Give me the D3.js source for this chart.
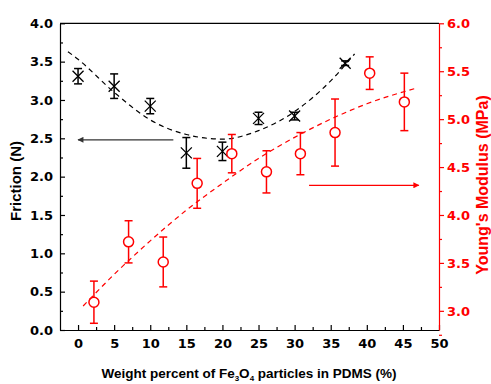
<!DOCTYPE html>
<html>
<head>
<meta charset="utf-8">
<script src="https://cdn.jsdelivr.net/npm/d3@7"></script>
<style>
    body { margin: 0; background: #fff; }
    svg { display: block; }
    .tick text { font-family: 'DejaVu Sans', sans-serif; font-weight: bold; font-size: 13px; }
    .title { font-family: 'Liberation Sans', Arial, sans-serif; font-weight: bold; }
</style>
</head>
<body>
<div class="svg"></div>
<script>
//
// DATA
//
// friction (left axis), black crosses
const fricX = [0, 5, 10, 15, 20, 25, 30, 37]
const fricY = [3.31, 3.18, 2.92, 2.31, 2.33, 2.76, 2.79, 3.48]
const fricErr = [0.1, 0.16, 0.1, 0.2, 0.12, 0.08, 0.05, 0.03]
// young's modulus (right axis), red circles
const modX = [2.2, 7, 11.8, 16.5, 21.3, 26.1, 30.8, 35.6, 40.4, 45.2]
const modY = [3.09, 3.72, 3.51, 4.33, 4.64, 4.45, 4.64, 4.86, 5.48, 5.18]
const modErr = [0.22, 0.22, 0.26, 0.26, 0.2, 0.22, 0.22, 0.35, 0.17, 0.3]
// dashed trend lines
const fricFitX = [-1.4, 0, 5, 10, 15, 20, 25, 30, 35, 38.3]
const fricFitY = [3.63, 3.53, 3.1, 2.74, 2.55, 2.49, 2.6, 2.85, 3.25, 3.6]
const modFitX = [0.7, 5, 10, 15, 20, 25, 30, 35, 40, 46.7]
const modFitY = [3.05, 3.38, 3.73, 4.05, 4.33, 4.59, 4.81, 5.0, 5.16, 5.32]
// the two arrows pointing at their axis: [x start, x end, y]
const fricArrow = [13.2, 0, 2.48]
const modArrow = [32, 47.2, 4.31]

//
// GLOBALS
//
const width = 491
const height = 384
const red = '#ff0000'
const plotL = 60, plotR = 439, plotT = 23.3, plotB = 330

const svg = d3.select('.svg').append('svg')
    .attr('width', width)
    .attr('height', height)

const x = d3.scaleLinear().domain([-2.5, 50]).range([plotL, plotR])
const yL = d3.scaleLinear().domain([0, 4]).range([plotB, plotT])
const yR = d3.scaleLinear().domain([2.8, 6]).range([plotB, plotT])

// arrow heads
const defs = svg.append('defs')
const addHead = (id, color) => {
    defs.append('marker')
        .attr('id', id)
        .attr('viewBox', '0 0 10 10')
        .attr('refX', 9).attr('refY', 5)
        .attr('markerWidth', 10).attr('markerHeight', 6)
        .attr('markerUnits', 'userSpaceOnUse')
        .attr('orient', 'auto')
        .append('path')
        .attr('d', 'M0,0L10,5L0,10Z')
        .attr('fill', color)
}
addHead('headBlack', '#333')
addHead('headRed', red)

//
// AXES
//
const styleAxis = (g, color) => {
    g.selectAll('path, line').attr('stroke', color).attr('stroke-width', 1.2)
    g.selectAll('text').attr('fill', color)
}
const range = (a, b, s) => d3.range(a, b + s / 2, s)

// bottom: ticks point inward
svg.append('g')
    .attr('transform', `translate(0,${plotB})`)
    .call(d3.axisBottom(x).tickValues(range(2.5, 47.5, 5)).tickSize(-3).tickFormat(''))
    .call(g => g.select('.domain').remove())
    .call(g => styleAxis(g, '#000'))
svg.append('g')
    .attr('transform', `translate(0,${plotB})`)
    .call(d3.axisBottom(x).tickValues(range(0, 50, 5)).tickSize(-5).tickSizeOuter(0).tickPadding(9).tickFormat(d3.format('d')))
    .call(g => styleAxis(g, '#000'))

// top frame line
svg.append('line')
    .attr('x1', plotL).attr('x2', plotR)
    .attr('y1', plotT).attr('y2', plotT)
    .attr('stroke', '#000').attr('stroke-width', 1.2)

// left: friction
svg.append('g')
    .attr('transform', `translate(${plotL},0)`)
    .call(d3.axisLeft(yL).tickValues(range(0.25, 3.75, 0.5)).tickSize(-3).tickFormat(''))
    .call(g => g.select('.domain').remove())
    .call(g => styleAxis(g, '#000'))
svg.append('g')
    .attr('transform', `translate(${plotL},0)`)
    .call(d3.axisLeft(yL).tickValues(range(0, 4, 0.5)).tickSize(-5).tickSizeOuter(0).tickPadding(7).tickFormat(d3.format('.1f')))
    .call(g => styleAxis(g, '#000'))

// right: modulus, ticks point outward
svg.append('g')
    .attr('transform', `translate(${plotR},0)`)
    .call(d3.axisRight(yR).tickValues(range(2.75, 5.75, 0.5)).tickSize(3).tickFormat(''))
    .call(g => g.select('.domain').remove())
    .call(g => styleAxis(g, red))
svg.append('g')
    .attr('transform', `translate(${plotR},0)`)
    .call(d3.axisRight(yR).tickValues(range(3, 6, 0.5)).tickSize(5).tickSizeOuter(0).tickPadding(3).tickFormat(d3.format('.1f')))
    .call(g => styleAxis(g, red))

//
// TITLES
//
const xTitle = svg.append('text')
    .attr('class', 'title')
    .attr('x', 249).attr('y', 378)
    .attr('text-anchor', 'middle')
    .style('font-size', '13.5px')
xTitle.append('tspan').text('Weight percent of Fe')
xTitle.append('tspan').attr('dy', 2.5).style('font-size', '8px').text('3')
xTitle.append('tspan').attr('dy', -2.5).text('O')
xTitle.append('tspan').attr('dy', 2.5).style('font-size', '8px').text('4')
xTitle.append('tspan').attr('dy', -2.5).text(' particles in PDMS (%)')

svg.append('text')
    .attr('class', 'title')
    .attr('transform', 'translate(21,181) rotate(-90)')
    .attr('text-anchor', 'middle')
    .style('font-size', '15px')
    .text('Friction (N)')

svg.append('text')
    .attr('class', 'title')
    .attr('transform', 'translate(488,185) rotate(-90)')
    .attr('text-anchor', 'middle')
    .attr('fill', red)
    .style('font-size', '16px')
    .text("Young's Modulus (MPa)")

//
// TREND LINES
//
const plotFit = (xs, ys, yScale, color) => {
    const line = d3.line()
        .x(d => x(d[0]))
        .y(d => yScale(d[1]))
        .curve(d3.curveMonotoneX)
    svg.append('path')
        .attr('d', line(d3.zip(xs, ys)))
        .attr('fill', 'none')
        .attr('stroke', color)
        .attr('stroke-width', 1.2)
        .attr('stroke-dasharray', '5,4')
}
plotFit(fricFitX, fricFitY, yL, '#000')
plotFit(modFitX, modFitY, yR, red)

//
// ARROWS
//
const plotArrow = (a, yScale, color, head) => {
    svg.append('line')
        .attr('x1', x(a[0])).attr('x2', x(a[1]))
        .attr('y1', yScale(a[2])).attr('y2', yScale(a[2]))
        .attr('stroke', color)
        .attr('stroke-width', 1.3)
        .attr('marker-end', `url(#${head})`)
}
plotArrow(fricArrow, yL, '#333', 'headBlack')
plotArrow(modArrow, yR, red, 'headRed')

//
// ERROR BARS + MARKERS
//
const plotErrors = (xs, ys, errs, yScale, color) => {
    const g = svg.append('g').attr('stroke', color).attr('stroke-width', 1.5).attr('fill', 'none')
    xs.forEach((xv, i) => {
        const cx = x(xv)
        const y1 = yScale(ys[i] + errs[i])
        const y2 = yScale(ys[i] - errs[i])
        g.append('line').attr('x1', cx).attr('x2', cx).attr('y1', y1).attr('y2', y2)
        g.append('line').attr('x1', cx - 4).attr('x2', cx + 4).attr('y1', y1).attr('y2', y1)
        g.append('line').attr('x1', cx - 4).attr('x2', cx + 4).attr('y1', y2).attr('y2', y2)
    })
}
plotErrors(fricX, fricY, fricErr, yL, '#000')
plotErrors(modX, modY, modErr, yR, red)

// crosses for friction
const s = 5.5
svg.append('g')
    .selectAll('path')
    .data(d3.zip(fricX, fricY))
    .join('path')
    .attr('d', d => {
        const cx = x(d[0]), cy = yL(d[1])
        return `M${cx - s},${cy - s}L${cx + s},${cy + s}M${cx - s},${cy + s}L${cx + s},${cy - s}`
    })
    .attr('stroke', '#000')
    .attr('stroke-width', 1.3)

// open circles for modulus
svg.append('g')
    .selectAll('circle')
    .data(d3.zip(modX, modY))
    .join('circle')
    .attr('cx', d => x(d[0]))
    .attr('cy', d => yR(d[1]))
    .attr('r', 5)
    .attr('fill', '#fff')
    .attr('stroke', red)
    .attr('stroke-width', 1.5)
</script>
</body>
</html>
